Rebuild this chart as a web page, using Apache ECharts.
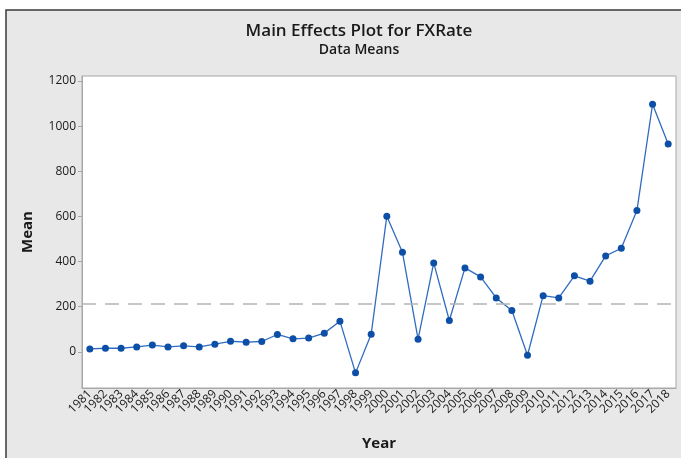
<!DOCTYPE html>
<html>
<head>
<meta charset="utf-8">
<script src="https://cdn.jsdelivr.net/npm/echarts@6/dist/echarts.min.js"></script>
<style>
html,body{margin:0;padding:0;background:#fff;}
#c{width:681px;height:458px;}
</style>
</head>
<body>
<div id="c"></div>
<script>
var years = ['1981','1982','1983','1984','1985','1986','1987','1988','1989','1990','1991','1992','1993','1994','1995','1996','1997','1998','1999','2000','2001','2002','2003','2004','2005','2006','2007','2008','2009','2010','2011','2012','2013','2014','2015','2016','2017','2018'];
var means = [13,16,16,22,30,22,27,22,34,47,43,46,77,58,61,83,136,-93,78,601,441,56,394,139,372,332,239,183,-15,249,239,337,313,425,459,626,1097,921];
var grandMean = 212;
var yTicks = [0,200,400,600,800,1000,1200];

var chart = echarts.init(document.getElementById('c'));
chart.setOption({
  backgroundColor: '#ffffff',
  animation: false,
  graphic: [{
    type: 'rect', z: -10, silent: true,
    shape: {x: 6, y: 10, width: 700, height: 470},
    style: {fill: '#e8e8e8', stroke: '#3a3a3a', lineWidth: 1.5}
  }],
  title: {
    text: 'Main Effects Plot for FXRate',
    subtext: 'Data Means',
    left: 354, top: 18, textAlign: 'center',
    itemGap: 3,
    textStyle: {fontFamily: 'Open Sans', fontSize: 17, fontWeight: 600, color: '#1a1a1a'},
    subtextStyle: {fontFamily: 'Open Sans', fontSize: 14, fontWeight: 600, color: '#1a1a1a'}
  },
  grid: {left: 82, right: 5, top: 76, bottom: 70, show: true, backgroundColor: '#ffffff', borderColor: '#a8a8a8', borderWidth: 1},
  xAxis: {
    type: 'category', data: years, boundaryGap: true,
    name: 'Year', nameLocation: 'middle', nameGap: 48,
    nameTextStyle: {fontFamily: 'Open Sans', fontSize: 15, fontWeight: 'bold', color: '#1a1a1a'},
    axisLine: {onZero: false, lineStyle: {color: '#a8a8a8'}},
    axisTick: {alignWithLabel: true, length: 4, lineStyle: {color: '#a8a8a8'}},
    axisLabel: {rotate: 45, interval: 0, fontFamily: 'Open Sans', fontSize: 12, color: '#1a1a1a', margin: 4}
  },
  yAxis: {
    type: 'value', min: -160, max: 1222,
    name: 'Mean', nameLocation: 'middle', nameGap: 47,
    nameTextStyle: {fontFamily: 'Open Sans', fontSize: 15, fontWeight: 'bold', color: '#1a1a1a'},
    splitLine: {show: false},
    axisLine: {show: true, lineStyle: {color: '#a8a8a8'}},
    axisTick: {show: true, length: 4, customValues: yTicks, lineStyle: {color: '#a8a8a8'}},
    axisLabel: {customValues: yTicks, formatter: function (v) { return String(v); }, fontFamily: 'Open Sans', fontSize: 12, color: '#1a1a1a', margin: 6}
  },
  series: [{
    type: 'line', data: means,
    symbol: 'circle', symbolSize: 7,
    lineStyle: {color: '#2f6cc0', width: 1.3},
    itemStyle: {color: '#0d4fa6'},
    markLine: {
      silent: true, symbol: 'none', label: {show: false},
      lineStyle: {color: '#b4b4b4', type: [14, 9], width: 1.5},
      data: [{yAxis: grandMean}]
    }
  }]
});
</script>
</body>
</html>
